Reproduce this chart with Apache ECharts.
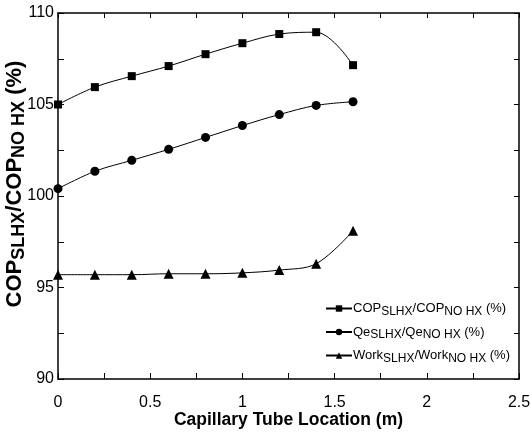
<!DOCTYPE html>
<html>
<head>
<meta charset="utf-8">
<script src="https://cdn.jsdelivr.net/npm/echarts@6/dist/echarts.min.js"></script>
<style>
    html, body { margin: 0; padding: 0; background: #fff; }
    #chart { width: 530px; height: 437px; }
</style>
</head>
<body>
<div id="chart"></div>
<script>
    // capillary tube location (m)
    var location_m = [0, 0.2, 0.4, 0.6, 0.8, 1.0, 1.2, 1.4, 1.6];

    // ratios SLHX / no HX (%)
    var copRatio = [105.0, 105.95, 106.55, 107.1, 107.75, 108.35, 108.85, 108.95, 107.15];
    var qeRatio = [100.4, 101.35, 101.95, 102.55, 103.2, 103.85, 104.45, 104.95, 105.15];
    var workRatio = [95.7, 95.7, 95.7, 95.75, 95.75, 95.8, 95.95, 96.3, 98.1];

    var seriesNames = ['cop', 'qe', 'work'];
    var legendText = {
        cop: 'COP{s|SLHX}/COP{s|NO HX} (%)',
        qe: 'Qe{s|SLHX}/Qe{s|NO HX} (%)',
        work: 'Work{s|SLHX}/Work{s|NO HX} (%)'
    };

    var font = 'Liberation Sans, Arial, sans-serif';

    function pairs(xs, ys) {
        var out = [];
        for (var i = 0; i < xs.length; i++) out.push([xs[i], ys[i]]);
        return out;
    }

    function mkSeries(name, data, symbol, size) {
        return {
            name: name,
            type: 'line',
            data: pairs(location_m, data),
            smooth: 0.35,
            symbol: symbol,
            symbolSize: size,
            showSymbol: true,
            lineStyle: { color: '#000', width: 1 },
            itemStyle: { color: '#000' },
            xAxisIndex: 0,
            yAxisIndex: 0
        };
    }

    var chart = echarts.init(document.getElementById('chart'), null, { renderer: 'canvas' });

    var axisLine = { show: true, onZero: false, lineStyle: { color: '#000', width: 1.5 } };

    var option = {
        animation: false,
        backgroundColor: '#fff',
        grid: { left: 58, right: 11, top: 13, bottom: 58, outerBoundsMode: 'none', containLabel: false },
        xAxis: [{
            type: 'value',
            min: 0, max: 2.5, interval: 0.5,
            axisLine: axisLine,
            axisTick: { inside: true, length: 6, lineStyle: { color: '#000' } },
            minorTick: { show: true, splitNumber: 2, length: 6, lineStyle: { color: '#000' } },
            splitLine: { show: false },
            axisLabel: { color: '#000', fontFamily: font, fontSize: 16, margin: 16,
                formatter: function (v) { return String(v); } },
            name: 'Capillary Tube Location (m)',
            nameLocation: 'middle',
            nameMoveOverlap: false,
            nameGap: 32,
            nameTextStyle: { color: '#000', fontFamily: font, fontSize: 17.5, fontWeight: 'bold' }
        }, {
            type: 'value', position: 'top',
            min: 0, max: 2.5, interval: 0.25,
            axisLine: axisLine,
            axisTick: { inside: true, length: 5, lineStyle: { color: '#000' } },
            axisLabel: { show: false },
            splitLine: { show: false }
        }],
        yAxis: [{
            type: 'value',
            min: 90, max: 110, interval: 5,
            axisLine: axisLine,
            axisTick: { inside: true, length: 6, lineStyle: { color: '#000' } },
            minorTick: { show: true, splitNumber: 2, length: 6, lineStyle: { color: '#000' } },
            splitLine: { show: false },
            axisLabel: { color: '#000', fontFamily: font, fontSize: 16, margin: 4 },
            name: 'COP{s|SLHX}/COP{s|NO HX} (%)',
            nameLocation: 'middle',
            nameMoveOverlap: false,
            nameGap: 30,
            nameTextStyle: {
                color: '#000', fontFamily: font, fontSize: 22, fontWeight: 'bold',
                padding: [0, 0, 0, 24],
                rich: {
                    s: { fontFamily: font, fontSize: 18, fontWeight: 'bold', color: '#000', padding: [8, 0, 0, 0] }
                }
            }
        }, {
            type: 'value', position: 'right',
            min: 90, max: 110, interval: 2.5,
            axisLine: axisLine,
            axisTick: { inside: true, length: 5, lineStyle: { color: '#000' } },
            axisLabel: { show: false },
            splitLine: { show: false }
        }],
        legend: {
            orient: 'vertical',
            left: 320,
            top: 297,
            itemWidth: 26,
            itemHeight: 8,
            itemGap: 8,
            data: seriesNames,
            formatter: function (n) { return legendText[n]; },
            textStyle: {
                color: '#000', fontFamily: font, fontSize: 13, padding: [0, 0, 0, -4],
                rich: {
                    s: { fontFamily: font, fontSize: 12, color: '#000', padding: [6, 0, 0, 0] }
                }
            }
        },
        series: [
            mkSeries('cop', copRatio, 'rect', 8),
            mkSeries('qe', qeRatio, 'circle', 9),
            mkSeries('work', workRatio, 'triangle', 10)
        ]
    };

    chart.setOption(option);
</script>
</body>
</html>
